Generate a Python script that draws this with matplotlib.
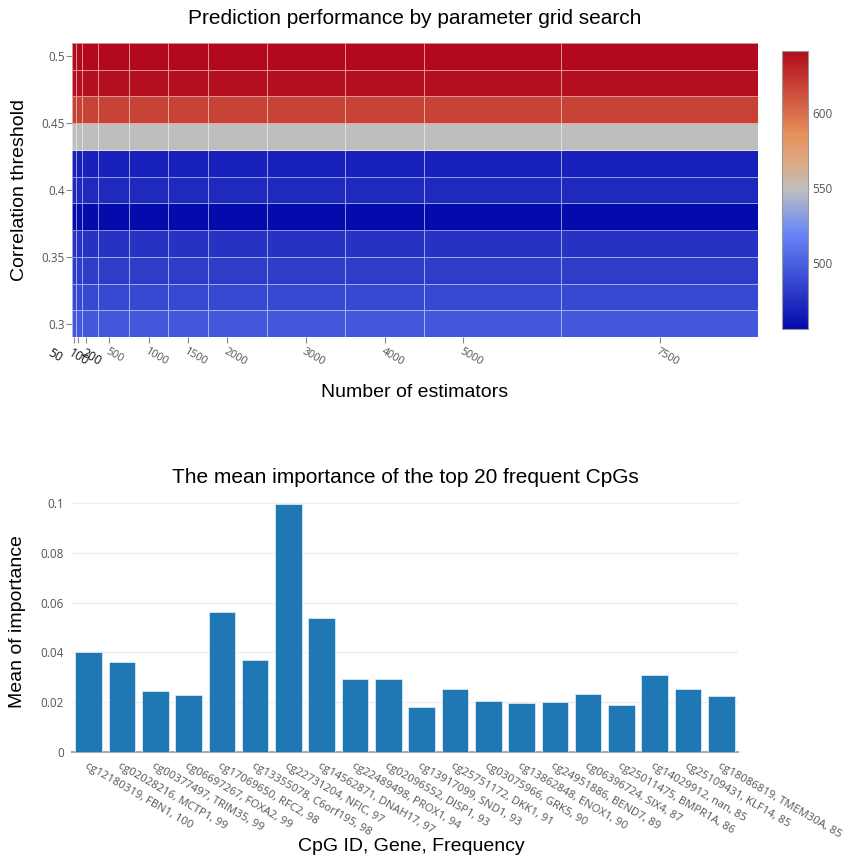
import numpy as np
import matplotlib
matplotlib.use("Agg")
from matplotlib import pyplot as plt
from matplotlib.colors import LinearSegmentedColormap
from matplotlib import transforms

# grid search results
n_estimators = [50, 100, 200, 500, 1000, 1500, 2000, 3000, 4000, 5000, 7500]
corr_threshold = [0.30, 0.32, 0.34, 0.36, 0.38, 0.40, 0.42, 0.44, 0.46, 0.48, 0.50]
row_score = [496, 488, 482, 477, 456, 472, 468, 549, 619, 639, 641.5]

# top 20 CpGs
cpg_labels = ["cg12180319, FBN1, 100", "cg02028216, MCTP1, 99", "cg00377497, TRIM35, 99",
              "cg06697267, FOXA2, 99", "cg17069650, RFC2, 98", "cg13355078, C6orf195, 98",
              "cg22731204, NFIC, 97", "cg14562871, DNAH17, 97", "cg22489498, PROX1, 94",
              "cg02096552, DISP1, 93", "cg13917099, SND1, 93", "cg25751172, DKK1, 91",
              "cg03075966, GRK5, 90", "cg13862848, ENOX1, 90", "cg24951886, BEND7, 89",
              "cg06396724, SIX4, 87", "cg25011475, BMPR1A, 86", "cg14029912, nan, 85",
              "cg25109431, KLF14, 85", "cg18086819, TMEM30A, 85"]
mean_importance = [0.0403, 0.0361, 0.0246, 0.0228, 0.0564, 0.0368, 0.0996, 0.0539,
                   0.0293, 0.0293, 0.0181, 0.0254, 0.0203, 0.0195, 0.0200, 0.0232,
                   0.0187, 0.0307, 0.0254, 0.0223]

score = np.tile(np.array(row_score)[:, None], (1, len(n_estimators)))

rdbu = LinearSegmentedColormap.from_list("rdbu", [
    (0.0, (5/255, 10/255, 172/255)),
    (0.35, (106/255, 137/255, 247/255)),
    (0.5, (190/255, 190/255, 190/255)),
    (0.6, (220/255, 170/255, 132/255)),
    (0.7, (230/255, 145/255, 90/255)),
    (1.0, (178/255, 10/255, 28/255))])

title_font = "Liberation Sans"
tick_font = "Open Sans"
tick_col = "#555555"

fig = plt.figure(figsize=(8.48, 8.6), dpi=100)

# cell edges halfway between grid points
x = np.array(n_estimators, dtype=float)
y = np.array(corr_threshold)
xe = np.concatenate([[x[0] - (x[1] - x[0]) / 2], (x[1:] + x[:-1]) / 2, [x[-1] + (x[-1] - x[-2]) / 2]])
ye = np.concatenate([[y[0] - (y[1] - y[0]) / 2], (y[1:] + y[:-1]) / 2, [y[-1] + (y[-1] - y[-2]) / 2]])

ax1 = fig.add_axes([0.0849, 0.6081, 0.809, 0.3419])
mesh = ax1.pcolormesh(xe, ye, score, cmap=rdbu, vmin=score.min(), vmax=score.max(),
                      edgecolors=(1, 1, 1, 0.55), linewidth=0.7)
ax1.set_xlim(xe[0], xe[-1])
ax1.set_ylim(ye[0], ye[-1])
for s in ax1.spines.values():
    s.set_visible(False)
ax1.set_yticks([0.3, 0.35, 0.4, 0.45, 0.5])
ax1.set_yticklabels(["0.3", "0.35", "0.4", "0.45", "0.5"], fontfamily=tick_font,
                    fontsize=8.5, color=tick_col)
ax1.tick_params(axis="y", length=4, width=0.8, color="#888888", pad=1)
ax1.set_xticks(n_estimators)
ax1.set_xticklabels([])
ax1.tick_params(axis="x", length=4, width=0.8, color="#888888")
trans = transforms.blended_transform_factory(ax1.transData, ax1.transAxes)
shift = {50: -0.22, 100: -0.05}
for v in n_estimators:
    col, fs = tick_col, 7.8
    if v <= 200:
        col, fs = "#111111", 8.8
    t = trans + transforms.ScaledTranslation(shift.get(v, 0), 0, fig.dpi_scale_trans)
    ax1.text(v, -0.03, str(v), transform=t, rotation=-30, rotation_mode="anchor",
             ha="left", va="top", fontfamily=tick_font, fontsize=fs, color=col)
ax1.set_title("Prediction performance by parameter grid search", fontfamily=title_font,
              fontsize=15, pad=14)
ax1.set_ylabel("Correlation threshold", fontfamily=title_font, fontsize=14, labelpad=10)
ax1.text(0.5, -0.19, "Number of estimators", transform=ax1.transAxes, ha="center",
         va="center", fontfamily=title_font, fontsize=14)

cax = fig.add_axes([0.922, 0.6174, 0.0307, 0.3236])
cb = fig.colorbar(mesh, cax=cax)
cb.set_ticks([500, 550, 600])
cb.ax.tick_params(length=0, labelsize=8.5, labelcolor=tick_col, pad=3)
for lab in cb.ax.get_yticklabels():
    lab.set_fontfamily(tick_font)
cb.outline.set_edgecolor("#999999")
cb.outline.set_linewidth(0.8)

# bar chart of importance
ax2 = fig.add_axes([0.0849, 0.1259, 0.7854, 0.3027])
pos = np.arange(len(cpg_labels))
ax2.bar(pos, mean_importance, width=0.8, color="#1f77b4", edgecolor="#dbe8f3",
        linewidth=0.6, zorder=3)
ax2.set_xlim(-0.5, len(cpg_labels) - 0.5)
ax2.set_ylim(0, 0.1048)
ax2.set_yticks([0, 0.02, 0.04, 0.06, 0.08, 0.1])
ax2.set_yticklabels(["0", "0.02", "0.04", "0.06", "0.08", "0.1"], fontfamily=tick_font,
                    fontsize=8.5, color=tick_col)
ax2.grid(axis="y", color="#eeeeee", linewidth=1, zorder=0)
ax2.tick_params(axis="y", length=0, pad=6)
for s in ["top", "right", "left"]:
    ax2.spines[s].set_visible(False)
ax2.spines["bottom"].set_color("#aaaaaa")
ax2.spines["bottom"].set_linewidth(1.5)
ax2.set_xticks(pos)
ax2.set_xticklabels(cpg_labels, rotation=-30, rotation_mode="anchor", ha="left",
                    va="top", fontfamily=tick_font, fontsize=8.1, color=tick_col)
ax2.tick_params(axis="x", length=0, pad=6)
ax2.set_title("The mean importance of the top 20 frequent CpGs", fontfamily=title_font,
              fontsize=15, pad=6)
ax2.set_ylabel("Mean of importance", fontfamily=title_font, fontsize=14, labelpad=10)
ax2.text(0.51, -0.365, "CpG ID, Gene, Frequency", transform=ax2.transAxes, ha="center",
         va="center", fontfamily=title_font, fontsize=14)

plt.savefig("out.png", dpi=100)
